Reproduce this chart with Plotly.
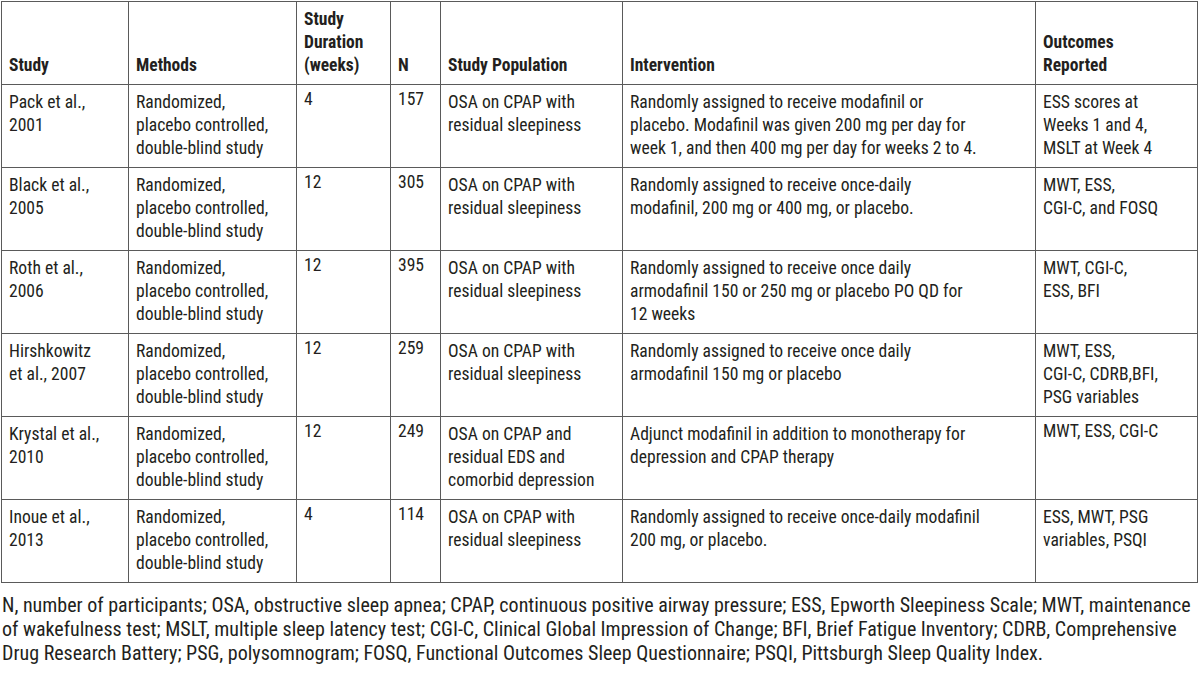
import plotly.graph_objects as go

headers = ["Study", "Methods", "Study<br>Duration<br>(weeks)", "N", "Study Population", "Intervention", "Outcomes<br>Reported"]
studies = ["Pack et al.,<br>2001", "Black et al.,<br>2005", "Roth et al.,<br>2006",
           "Hirshkowitz<br>et al., 2007", "Krystal et al.,<br>2010", "Inoue et al.,<br>2013"]
methods = ["Randomized,<br>placebo controlled,<br>double-blind study"] * 6
durations = [4, 12, 12, 12, 12, 4]
n_values = [157, 305, 395, 259, 249, 114]
populations = ["OSA on CPAP with<br>residual sleepiness"] * 4 + \
              ["OSA on CPAP and<br>residual EDS and<br>comorbid depression",
               "OSA on CPAP with<br>residual sleepiness"]
interventions = [
    "Randomly assigned to receive modafinil or<br>placebo. Modafinil was given 200 mg per day for<br>week 1, and then 400 mg per day for weeks 2 to 4.",
    "Randomly assigned to receive once-daily<br>modafinil, 200 mg or 400 mg, or placebo.",
    "Randomly assigned to receive once daily<br>armodafinil 150 or 250 mg or placebo PO QD for<br>12 weeks",
    "Randomly assigned to receive once daily<br>armodafinil 150 mg or placebo",
    "Adjunct modafinil in addition to monotherapy for<br>depression and CPAP therapy",
    "Randomly assigned to receive once-daily modafinil<br>200 mg, or placebo.",
]
outcomes = [
    "ESS scores at<br>Weeks 1 and 4,<br>MSLT at Week 4",
    "MWT, ESS,<br>CGI-C, and FOSQ",
    "MWT, CGI-C,<br>ESS, BFI",
    "MWT, ESS,<br>CGI-C, CDRB,BFI,<br>PSG variables",
    "MWT, ESS, CGI-C",
    "ESS, MWT, PSG<br>variables, PSQI",
]
footnote_lines = [
    "N, number of participants; OSA, obstructive sleep apnea; CPAP, continuous positive airway pressure; "
    "ESS, Epworth Sleepiness Scale; MWT, maintenance",
    "of wakefulness test; MSLT, multiple sleep latency test; CGI-C, Clinical Global Impression of Change; "
    "BFI, Brief Fatigue Inventory; CDRB, Comprehensive",
    "Drug Research Battery; PSG, polysomnogram; FOSQ, Functional Outcomes Sleep Questionnaire; "
    "PSQI, Pittsburgh Sleep Quality Index.",
]

# layout / style constants (px)
W, H = 1200, 676
col_widths = [127, 168, 94, 50, 182, 413, 162]
TABLE_LEFT, TABLE_TOP = 1, 1
HEADER_H, ROW_H = 83, 83
FOOT_FIRST, FOOT_PITCH = 605, 24

FONT = "Roboto Condensed, Liberation Sans Narrow, Arial Narrow, sans-serif"
TXT = "#231f20"
LINE = "#5a5a5a"

max_lines = max(h.count("<br>") for h in headers)
NB = "\u00a0"
header_vals = [(NB + "<br>") * (max_lines - h.count("<br>")) + "<b>" + h.replace("<br>", "</b><br><b>") + "</b>"
               for h in headers]

fig = go.Figure(go.Table(
    domain=dict(x=[TABLE_LEFT / W, (TABLE_LEFT + sum(col_widths)) / W], y=[0.0, 1 - TABLE_TOP / H]),
    columnwidth=col_widths,
    header=dict(values=header_vals, align="left", height=HEADER_H,
                fill_color="white", line=dict(color=LINE, width=1),
                font=dict(family=FONT, size=17.5, color=TXT)),
    cells=dict(values=[studies, methods, durations, n_values, populations, interventions, outcomes],
               align="left", height=ROW_H,
               fill_color="white", line=dict(color=LINE, width=1),
               font=dict(family=FONT, size=17.6, color=TXT)),
))

for i, line in enumerate(footnote_lines):
    fig.add_annotation(text=line, xref="paper", yref="paper", x=0.0, y=1 - (FOOT_FIRST + FOOT_PITCH * i) / H,
                       xanchor="left", yanchor="middle", showarrow=False, align="left",
                       font=dict(family=FONT, size=20, color=TXT))

fig.update_layout(width=W, height=H, margin=dict(l=0, r=0, t=0, b=0),
                  paper_bgcolor="white", plot_bgcolor="white")
fig.write_html("out.html", config={"displayModeBar": False},
               post_script="document.body.style.margin='0';")
